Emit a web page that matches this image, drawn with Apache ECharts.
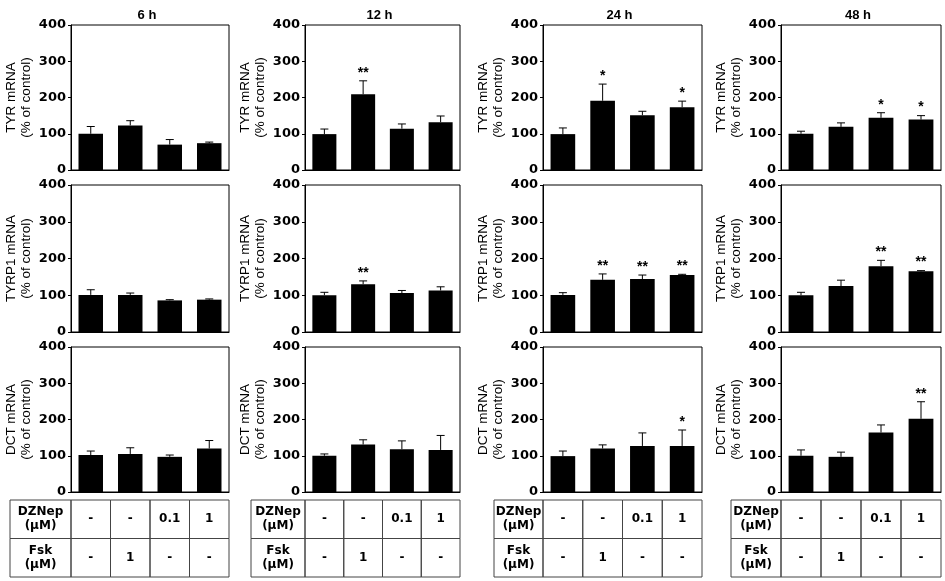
<!DOCTYPE html>
<html>
<head>
<meta charset="utf-8">
<script src="https://cdn.jsdelivr.net/npm/echarts@6/dist/echarts.min.js"></script>
<style>html,body{margin:0;padding:0;background:#fff}#c{width:945px;height:581px}</style>
</head>
<body>
<div id="c"></div>
<script>
// ---- data ----
const timeLabels = ['6 h', '12 h', '24 h', '48 h'];
const geneLabels = ['TYR mRNA', 'TYRP1 mRNA', 'DCT mRNA'];
const groups = ['Control', 'Fsk 1', 'DZNep 0.1', 'DZNep 1'];
const yTicks = [0, 100, 200, 300, 400];

// TYR (per time point: 6h, 12h, 24h, 48h)
const tyrMean = [[100, 123, 70, 74], [99, 209, 114, 132], [99, 191, 151, 173], [100, 119, 144, 139]];
const tyrErr  = [[20, 13, 14, 3], [14, 37, 13, 17], [17, 46, 11, 17], [7, 11, 14, 11]];
const tyrSig  = [['', '', '', ''], ['', '**', '', ''], ['', '*', '', '*'], ['', '', '*', '*']];

// TYRP1
const tyrp1Mean = [[101, 101, 86, 88], [100, 130, 106, 113], [101, 142, 144, 155], [100, 125, 179, 165]];
const tyrp1Err  = [[14, 5, 2, 2], [8, 9, 7, 10], [6, 16, 11, 2], [8, 16, 16, 2]];
const tyrp1Sig  = [['', '', '', ''], ['', '**', '', ''], ['', '**', '**', '**'], ['', '', '**', '**']];

// DCT
const dctMean = [[102, 105, 97, 120], [100, 131, 118, 116], [99, 120, 127, 127], [100, 97, 164, 202]];
const dctErr  = [[11, 17, 5, 22], [5, 13, 23, 40], [14, 10, 36, 44], [16, 13, 21, 47]];
const dctSig  = [['', '', '', ''], ['', '', '', ''], ['', '', '', '*'], ['', '', '', '**']];

// treatment table
const dznepRow = ['-', '-', '0.1', '1'];
const fskRow = ['-', '1', '-', '-'];
const tableHeads = ['DZNep\n(µM)', 'Fsk\n(µM)'];

// ---- layout ----
const FONT = '"Liberation Sans", Arial, Helvetica, sans-serif';
const WIDE = '"DejaVu Sans", Verdana, sans-serif';
const colLeft = [71, 305, 543, 781];
const colWidth = [158, 155, 159, 160];
const rowTop = [25, 185, 347];
const rowHeight = [145, 147, 145];
const tableLeft = [10, 251, 494, 731];
const tableTop = 500, tableRowH = 38.5;

const means = [tyrMean, tyrp1Mean, dctMean];
const errs = [tyrErr, tyrp1Err, dctErr];
const sigs = [tyrSig, tyrp1Sig, dctSig];

const grids = [], xAxes = [], yAxes = [], series = [], graphics = [];

for (let r = 0; r < 3; r++) {
  for (let c = 0; c < 4; c++) {
    const i = r * 4 + c;
    grids.push({
      left: colLeft[c], top: rowTop[r], width: colWidth[c], height: rowHeight[r],
      show: true, borderColor: '#000', borderWidth: 1, backgroundColor: 'transparent'
    });
    xAxes.push({
      type: 'category', gridIndex: i, data: groups,
      axisLine: { show: true, lineStyle: { color: '#000', width: 1 } },
      axisTick: { show: false }, axisLabel: { show: false }
    });
    yAxes.push({
      type: 'value', gridIndex: i, min: yTicks[0], max: yTicks[yTicks.length - 1], interval: 100,
      name: geneLabels[r] + '\n(% of control)', nameLocation: 'middle', nameGap: 37, nameRotate: 90,
      nameTextStyle: { fontFamily: FONT, fontSize: 13.5, color: '#000', lineHeight: 15 },
      axisLine: { show: true, lineStyle: { color: '#000', width: 1 } },
      axisTick: { show: true, length: 3, lineStyle: { color: '#000' } },
      axisLabel: { fontFamily: WIDE, fontSize: 13, fontWeight: 'bold', color: '#000', margin: 5 },
      splitLine: { show: false }
    });
    const m = means[r][c], e = errs[r][c];
    series.push({
      type: 'bar', xAxisIndex: i, yAxisIndex: i, data: m, barWidth: '62%',
      itemStyle: { color: '#000' }, silent: true
    });
    series.push({
      type: 'custom', xAxisIndex: i, yAxisIndex: i,
      data: m.map((v, k) => [k, v, e[k]]),
      encode: { x: 0, y: 1 },
      z: 5,
      renderItem: function (params, api) {
        const k = api.value(0), v = api.value(1), ev = api.value(2);
        const base = api.coord([k, v]);
        const top = api.coord([k, v + ev]);
        const st = sigs[r][c][params.dataIndex];
        const children = [
          { type: 'line', shape: { x1: base[0], y1: base[1], x2: top[0], y2: top[1] }, style: { stroke: '#000', lineWidth: 1 } },
          { type: 'line', shape: { x1: top[0] - 4, y1: top[1], x2: top[0] + 4, y2: top[1] }, style: { stroke: '#000', lineWidth: 1 } }
        ];
        if (st) {
          children.push({
            type: 'text',
            style: { text: st, x: top[0], y: top[1] - 15, align: 'center', verticalAlign: 'top',
              font: 'bold 14px ' + FONT, fill: '#000' }
          });
        }
        return { type: 'group', children: children };
      }
    });
  }
}

// column titles
for (let c = 0; c < 4; c++) {
  graphics.push({
    type: 'text', x: colLeft[c] + colWidth[c] / 2 - 3, y: 15,
    style: { text: timeLabels[c], font: 'bold 13px ' + FONT, fill: '#000', align: 'center', verticalAlign: 'middle' }
  });
}

// treatment tables
const rowsVals = [dznepRow, fskRow];
for (let c = 0; c < 4; c++) {
  const cw = colWidth[c] / 4;
  for (let rr = 0; rr < 2; rr++) {
    const y0 = tableTop + rr * tableRowH;
    graphics.push({
      type: 'rect', shape: { x: tableLeft[c], y: y0, width: colLeft[c] - tableLeft[c], height: tableRowH },
      style: { fill: 'none', stroke: '#444', lineWidth: 1 }
    });
    graphics.push({
      type: 'text', x: (tableLeft[c] + colLeft[c]) / 2, y: y0 + tableRowH / 2,
      style: { text: tableHeads[rr], font: 'bold 12px ' + WIDE, fill: '#000', align: 'center', verticalAlign: 'middle', lineHeight: 14 }
    });
    for (let k = 0; k < 4; k++) {
      const x0 = colLeft[c] + k * cw;
      graphics.push({
        type: 'rect', shape: { x: x0, y: y0, width: cw, height: tableRowH },
        style: { fill: 'none', stroke: '#444', lineWidth: 1 }
      });
      graphics.push({
        type: 'text', x: x0 + cw / 2, y: y0 + tableRowH / 2,
        style: { text: rowsVals[rr][k], font: 'bold 12px ' + WIDE, fill: '#000', align: 'center', verticalAlign: 'middle' }
      });
    }
  }
}

const chart = echarts.init(document.getElementById('c'), null, { renderer: 'canvas' });
chart.setOption({
  animation: false,
  backgroundColor: '#fff',
  grid: grids,
  xAxis: xAxes,
  yAxis: yAxes,
  series: series,
  graphic: { elements: graphics }
});
</script>
</body>
</html>
